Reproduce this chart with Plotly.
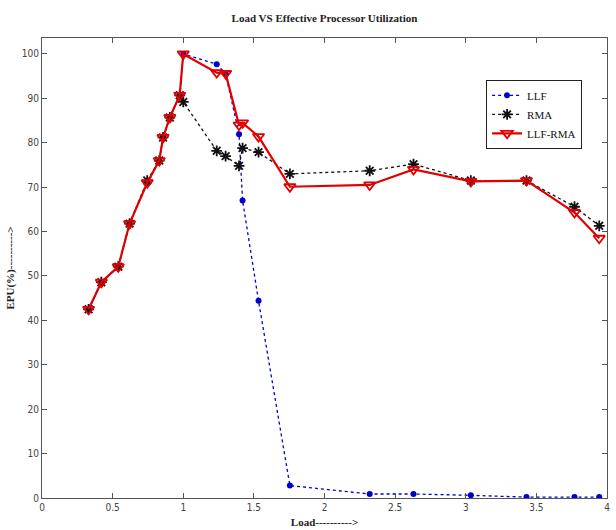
import plotly.graph_objects as go

load = [0.33, 0.42, 0.54, 0.62, 0.745, 0.83, 0.857, 0.905, 0.975, 1.0, 1.237, 1.30,
        1.395, 1.42, 1.533, 1.755, 2.32, 2.63, 3.036, 3.43, 3.77, 3.945]
llf = [42.5, 48.6, 52.1, 61.8, 71.0, 76.0, 81.2, 85.7, 90.7, 100.0, 97.7, 95.6,
       81.9, 67.0, 44.4, 2.8, 0.9, 0.9, 0.6, 0.2, 0.2, 0.2]
rma = [42.5, 48.6, 52.1, 61.8, 71.5, 76.0, 81.2, 85.7, 90.7, 89.2, 78.2, 77.0,
       74.8, 78.8, 77.9, 73.0, 73.7, 75.2, 71.5, 71.5, 65.6, 61.3]
llf_rma = [42.5, 48.6, 52.1, 61.8, 71.0, 76.0, 81.2, 85.7, 90.7, 100.0, 95.8, 95.6,
           84.0, 84.5, 81.4, 70.1, 70.5, 74.0, 71.3, 71.5, 64.3, 58.5]

x_ticks = [0, 0.5, 1, 1.5, 2, 2.5, 3, 3.5, 4]
x_tick_text = ["0", "0.5", "1", "1.5", "2", "2.5", "3", "3.5", "4"]
y_ticks = [0, 10, 20, 30, 40, 50, 60, 70, 80, 90, 100]

serif = "Liberation Serif, Times New Roman, serif"
narrow = "DejaVu Sans Condensed, Liberation Sans Narrow, Arial Narrow, sans-serif"

fig = go.Figure()
fig.add_trace(go.Scatter(
    x=load, y=llf, name="LLF", mode="lines+markers",
    line=dict(color="#0000cc", width=1.3, dash="dot"),
    marker=dict(symbol="circle", size=6, color="#0000cc"),
))
fig.add_trace(go.Scatter(
    x=load, y=rma, name="RMA", mode="lines+markers",
    line=dict(color="#111111", width=1.3, dash="dot"),
    marker=dict(symbol="asterisk-open", size=9, color="#111111",
                line=dict(color="#111111", width=1.8)),
))
fig.add_trace(go.Scatter(
    x=load, y=llf_rma, name="LLF-RMA", mode="lines+markers",
    line=dict(color="#e00000", width=2.2),
    marker=dict(symbol="triangle-down-open", size=10, color="#e00000",
                line=dict(color="#e00000", width=1.8)),
))

fig.update_layout(
    width=616, height=530,
    margin=dict(l=42, r=9, t=38, b=32, autoexpand=False),
    paper_bgcolor="white", plot_bgcolor="white",
    title=dict(text="<b>Load VS Effective Processor Utilization</b>",
               x=0.5, xref="paper", y=0.966, yref="container",
               xanchor="center", yanchor="middle", automargin=False,
               font=dict(family=serif, size=11, color="#222")),
    legend=dict(x=0.786, y=0.909, xanchor="left", yanchor="top",
                bgcolor="white", bordercolor="#222", borderwidth=1,
                font=dict(family=serif, size=11, color="#111"),
                tracegroupgap=0, itemwidth=30),
    showlegend=True,
)
fig.update_xaxes(
    range=[0, 4], tickmode="array", tickvals=x_ticks, ticktext=x_tick_text,
    automargin=False, ticklabeloverflow="allow",
    showgrid=False, zeroline=False, showline=True, linecolor="#555", linewidth=1,
    mirror="ticks", ticks="inside", ticklen=5, tickcolor="#555",
    tickfont=dict(family=narrow, size=10, color="#444"),
    title=dict(text="<b>Load----------></b>", standoff=6,
               font=dict(family=serif, size=11, color="#222")),
)
fig.update_yaxes(
    range=[0, 103.6], tickmode="array", tickvals=y_ticks,
    automargin=False, ticklabeloverflow="allow",
    showgrid=False, zeroline=False, showline=True, linecolor="#555", linewidth=1,
    mirror="ticks", ticks="inside", ticklen=5, tickcolor="#555",
    tickfont=dict(family=narrow, size=10, color="#444"),
    title=dict(text="<b>EPU(%)----------></b>", standoff=4,
               font=dict(family=serif, size=11, color="#222")),
)

fig.write_html("out.html", config={"displayModeBar": False},
               post_script="document.body.style.margin='0';")
